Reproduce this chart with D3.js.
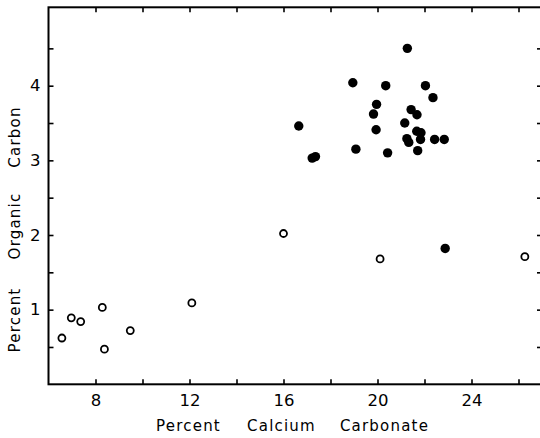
<!DOCTYPE html>
<html>
<head>
<meta charset="utf-8">
<script src="https://cdn.jsdelivr.net/npm/d3@7"></script>
<style>
  html, body { margin: 0; padding: 0; background: #fff; }
  svg { display: block; }
  text { font-family: "DejaVu Sans", sans-serif; fill: #000; }
</style>
</head>
<body>
<svg id="chart" width="540" height="438"></svg>
<script>
// Filled circles (series 1)
const filledX = [21.27, 18.95, 20.35, 22.04, 22.36, 19.96, 19.83, 21.43, 21.68, 21.16, 16.65, 19.94, 21.67, 21.85, 21.25, 21.83, 22.43, 22.84, 21.33, 19.08, 20.43, 21.71, 17.22, 17.36, 22.88];
const filledY = [4.50, 4.04, 4.00, 4.00, 3.84, 3.75, 3.62, 3.68, 3.61, 3.50, 3.46, 3.41, 3.39, 3.37, 3.29, 3.28, 3.28, 3.28, 3.24, 3.15, 3.10, 3.13, 3.03, 3.05, 1.82];
// Open circles (series 2)
const openX = [16.0, 20.11, 26.27, 12.1, 8.29, 6.97, 7.37, 6.57, 9.48, 8.38];
const openY = [2.02, 1.68, 1.71, 1.09, 1.03, 0.89, 0.84, 0.62, 0.72, 0.47];
// Axis ticks and labels
const xTicks = [8, 10, 12, 14, 16, 18, 20, 22, 24, 26];
const xLabels = [8, 12, 16, 20, 24];
const yTicks = [0.5, 1, 1.5, 2, 2.5, 3, 3.5, 4, 4.5];
const yLabels = [1, 2, 3, 4];
const xTitleWords = ["Percent", "Calcium", "Carbonate"];
const yTitleWords = ["Percent", "Organic", "Carbon"];

const svg = d3.select("#chart");
const x = d3.scaleLinear().domain([6, 27]).range([48.5, 542]);
const y = d3.scaleLinear().domain([0, 5.05]).range([384.3, 7.3]);

const [x0, x1] = x.range();
const [yb, yt] = y.range();

// Bottom axis (ticks inward)
svg.append("g")
  .attr("transform", `translate(0,${yb})`)
  .call(d3.axisBottom(x).tickValues(xTicks).tickSizeInner(-5).tickSizeOuter(0).tickPadding(9.5)
    .tickFormat(d => xLabels.includes(d) ? d : ""))
  .call(g => g.select(".domain").remove())
  .call(g => g.selectAll(".tick line").attr("stroke", "#000").attr("stroke-width", 1.6))
  .call(g => g.selectAll("text").attr("font-size", 16.5).attr("font-family", "DejaVu Sans").attr("fill", "#000"));

// Top axis ticks
svg.append("g")
  .attr("transform", `translate(0,${yt})`)
  .call(d3.axisTop(x).tickValues(xTicks).tickSizeInner(-5).tickSizeOuter(0).tickFormat(""))
  .call(g => g.select(".domain").remove())
  .call(g => g.selectAll(".tick line").attr("stroke", "#000").attr("stroke-width", 1.6));

// Left axis
svg.append("g")
  .attr("transform", `translate(${x0},0)`)
  .call(d3.axisLeft(y).tickValues(yTicks).tickSizeInner(-5).tickSizeOuter(0).tickPadding(8)
    .tickFormat(d => yLabels.includes(d) ? d : ""))
  .call(g => g.select(".domain").remove())
  .call(g => g.selectAll(".tick line").attr("stroke", "#000").attr("stroke-width", 1.6))
  .call(g => g.selectAll("text").attr("font-size", 16.5).attr("font-family", "DejaVu Sans").attr("fill", "#000"));

// Right axis ticks
svg.append("g")
  .attr("transform", `translate(${x1},0)`)
  .call(d3.axisRight(y).tickValues(yTicks).tickSizeInner(-5).tickSizeOuter(0).tickFormat(""))
  .call(g => g.select(".domain").remove())
  .call(g => g.selectAll(".tick line").attr("stroke", "#000").attr("stroke-width", 1.6));

// Frame
svg.append("rect")
  .attr("x", x0).attr("y", yt)
  .attr("width", x1 - x0).attr("height", yb - yt)
  .attr("fill", "none").attr("stroke", "#000").attr("stroke-width", 2);

// Open circles
svg.append("g").selectAll("circle")
  .data(openX.map((v, i) => [v, openY[i]]))
  .join("circle")
  .attr("cx", d => x(d[0])).attr("cy", d => y(d[1]))
  .attr("r", 3.5)
  .attr("fill", "#fff").attr("stroke", "#000").attr("stroke-width", 1.8);

// Filled circles
svg.append("g").selectAll("circle")
  .data(filledX.map((v, i) => [v, filledY[i]]))
  .join("circle")
  .attr("cx", d => x(d[0])).attr("cy", d => y(d[1]))
  .attr("r", 4.7)
  .attr("fill", "#000");

// X title (spaced words)
const xWordCenters = [188.5, 281.5, 384.5];
svg.append("g").selectAll("text")
  .data(xTitleWords)
  .join("text")
  .attr("x", (d, i) => xWordCenters[i])
  .attr("y", 431)
  .attr("text-anchor", "middle")
  .attr("font-size", 15)
  .attr("letter-spacing", 1.2)
  .text(d => d);

// Y title (rotated, spaced words)
const yWordCenters = [320, 226, 137];
svg.append("g").selectAll("text")
  .data(yTitleWords)
  .join("text")
  .attr("transform", (d, i) => `translate(20,${yWordCenters[i]}) rotate(-90)`)
  .attr("text-anchor", "middle")
  .attr("font-size", 15)
  .attr("letter-spacing", 1.2)
  .text(d => d);
</script>
</body>
</html>
